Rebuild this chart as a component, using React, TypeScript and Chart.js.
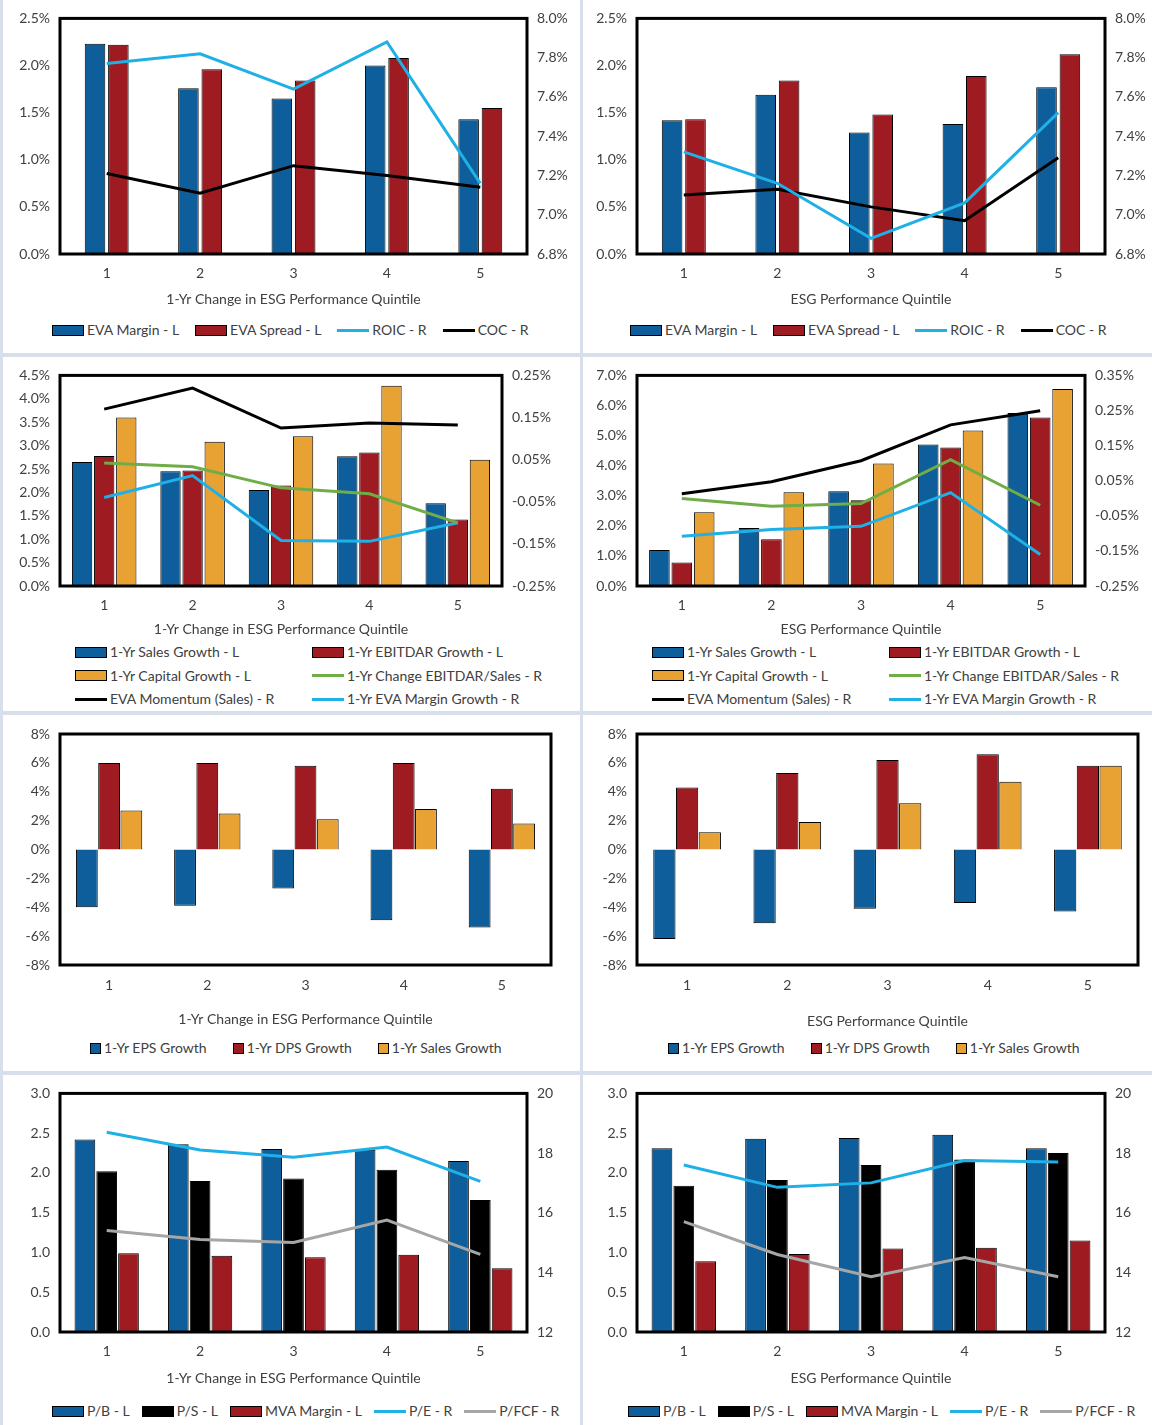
import React, { useEffect, useRef } from "react";
import { Chart, registerables } from "chart.js";
Chart.register(...registerables);

const categories = ["1", "2", "3", "4", "5"];
const BLUE = "#0F5E9C", RED = "#9E1B22", GOLD = "#E8A233", CYAN = "#1FB0E6", GREEN = "#70AD47", BLACK = "#000000", GRAY = "#A6A6A6";

// Panel 1
const p1EvaMargin = [2.23, 1.76, 1.65, 2.0, 1.43];
const p1EvaSpread = [2.22, 1.96, 1.84, 2.08, 1.55];
const p1Roic = [7.77, 7.82, 7.64, 7.88, 7.16];
const p1Coc = [7.21, 7.11, 7.25, 7.2, 7.14];
// Panel 2
const p2EvaMargin = [1.42, 1.69, 1.29, 1.38, 1.77];
const p2EvaSpread = [1.43, 1.84, 1.48, 1.89, 2.12];
const p2Roic = [7.32, 7.16, 6.88, 7.06, 7.52];
const p2Coc = [7.1, 7.13, 7.04, 6.97, 7.29];
// Panel 3
const p3Sales = [2.65, 2.45, 2.05, 2.77, 1.77];
const p3Ebitdar = [2.78, 2.47, 2.15, 2.85, 1.42];
const p3Capital = [3.6, 3.08, 3.2, 4.28, 2.7];
const p3Momentum = [0.17, 0.22, 0.125, 0.137, 0.132];
const p3ChgEbitdar = [0.042, 0.033, -0.017, -0.031, -0.1];
const p3EvaMarginGr = [-0.04, 0.012, -0.142, -0.144, -0.1];
// Panel 4
const p4Sales = [1.2, 1.93, 3.15, 4.7, 5.75];
const p4Ebitdar = [0.78, 1.55, 2.85, 4.6, 5.6];
const p4Capital = [2.45, 3.12, 4.07, 5.17, 6.55];
const p4Momentum = [0.013, 0.047, 0.107, 0.209, 0.249];
const p4ChgEbitdar = [-0.001, -0.023, -0.015, 0.11, -0.02];
const p4EvaMarginGr = [-0.108, -0.089, -0.08, 0.016, -0.16];
// Panel 5
const p5Eps = [-4.0, -3.9, -2.7, -4.9, -5.4];
const p5Dps = [6.0, 6.0, 5.8, 6.0, 4.2];
const p5Sales = [2.7, 2.5, 2.1, 2.8, 1.8];
// Panel 6
const p6Eps = [-6.2, -5.1, -4.1, -3.7, -4.3];
const p6Dps = [4.3, 5.3, 6.2, 6.6, 5.8];
const p6Sales = [1.2, 1.9, 3.2, 4.7, 5.8];
// Panel 7
const p7Pb = [2.42, 2.36, 2.3, 2.29, 2.15];
const p7Ps = [2.02, 1.9, 1.93, 2.04, 1.66];
const p7Mva = [0.99, 0.96, 0.94, 0.97, 0.8];
const p7Pe = [18.7, 18.1, 17.86, 18.2, 17.05];
const p7Pfcf = [15.4, 15.1, 15.0, 15.75, 14.6];
// Panel 8
const p8Pb = [2.31, 2.43, 2.44, 2.48, 2.31];
const p8Ps = [1.84, 1.91, 2.1, 2.17, 2.25];
const p8Mva = [0.89, 0.98, 1.05, 1.06, 1.15];
const p8Pe = [17.6, 16.85, 17.0, 17.75, 17.7];
const p8Pfcf = [15.7, 14.6, 13.85, 14.5, 13.85];

const T1 = "1-Yr Change in ESG Performance Quintile";
const T2 = "ESG Performance Quintile";
const FONT = "Lato, 'Noto Sans', sans-serif";

type S = { label: string; data: number[]; color: string };
type Axis = { min: number; max: number; step: number; dec: number; pct: boolean };
type Panel = {
  x: number; y: number; w: number; h: number; ch: number;
  pl: number; pr: number; pt: number; xh: number; tickPad: number;
  yL: Axis; yR?: Axis; bars: S[]; lines: S[]; catPct: number; barPct: number;
  title: string; legendTop: number; legendCols?: number[]; legendGap?: number; legendLeft?: number; square?: boolean;
};

const ax = (min: number, max: number, step: number, dec: number, pct: boolean): Axis => ({ min, max, step, dec, pct });

const panels: Panel[] = [
  { x: 3, y: 0, w: 577, h: 353, ch: 310, pl: 57, pr: 53, pt: 17, xh: 56, tickPad: 11,
    yL: ax(0, 2.5, 0.5, 1, true), yR: ax(6.8, 8.0, 0.2, 1, true),
    bars: [{ label: "EVA Margin - L", data: p1EvaMargin, color: BLUE }, { label: "EVA Spread - L", data: p1EvaSpread, color: RED }],
    lines: [{ label: "ROIC - R", data: p1Roic, color: CYAN }, { label: "COC - R", data: p1Coc, color: BLACK }],
    catPct: 0.5, barPct: 0.88, title: T1, legendTop: 321, legendLeft: 49, legendGap: 16 },
  { x: 583, y: 0, w: 569, h: 353, ch: 310, pl: 54, pr: 47, pt: 17, xh: 56, tickPad: 11,
    yL: ax(0, 2.5, 0.5, 1, true), yR: ax(6.8, 8.0, 0.2, 1, true),
    bars: [{ label: "EVA Margin - L", data: p2EvaMargin, color: BLUE }, { label: "EVA Spread - L", data: p2EvaSpread, color: RED }],
    lines: [{ label: "ROIC - R", data: p2Roic, color: CYAN }, { label: "COC - R", data: p2Coc, color: BLACK }],
    catPct: 0.5, barPct: 0.88, title: T2, legendTop: 321, legendLeft: 47, legendGap: 16 },
  { x: 3, y: 357, w: 577, h: 354, ch: 283, pl: 57, pr: 78, pt: 17, xh: 54, tickPad: 11,
    yL: ax(0, 4.5, 0.5, 1, true), yR: ax(-0.25, 0.25, 0.1, 2, true),
    bars: [{ label: "1-Yr Sales  Growth - L", data: p3Sales, color: BLUE }, { label: "1-Yr EBITDAR Growth - L", data: p3Ebitdar, color: RED }, { label: "1-Yr Capital Growth - L", data: p3Capital, color: GOLD }],
    lines: [{ label: "1-Yr Change EBITDAR/Sales - R", data: p3ChgEbitdar, color: GREEN }, { label: "EVA Momentum (Sales) - R", data: p3Momentum, color: BLACK }, { label: "1-Yr EVA Margin Growth - R", data: p3EvaMarginGr, color: CYAN }],
    catPct: 0.75, barPct: 0.92, title: T1, legendTop: 286, legendCols: [72, 309] },
  { x: 583, y: 357, w: 569, h: 354, ch: 283, pl: 54, pr: 67, pt: 17, xh: 54, tickPad: 11,
    yL: ax(0, 7, 1, 1, true), yR: ax(-0.25, 0.35, 0.1, 2, true),
    bars: [{ label: "1-Yr Sales  Growth - L", data: p4Sales, color: BLUE }, { label: "1-Yr EBITDAR Growth - L", data: p4Ebitdar, color: RED }, { label: "1-Yr Capital Growth - L", data: p4Capital, color: GOLD }],
    lines: [{ label: "1-Yr Change EBITDAR/Sales - R", data: p4ChgEbitdar, color: GREEN }, { label: "EVA Momentum (Sales) - R", data: p4Momentum, color: BLACK }, { label: "1-Yr EVA Margin Growth - R", data: p4EvaMarginGr, color: CYAN }],
    catPct: 0.75, barPct: 0.92, title: T2, legendTop: 286, legendCols: [69, 306] },
  { x: 3, y: 715, w: 577, h: 356, ch: 315, pl: 57, pr: 29, pt: 19, xh: 65, tickPad: 12,
    yL: ax(-8, 8, 2, 0, true),
    bars: [{ label: "1-Yr EPS Growth", data: p5Eps, color: BLUE }, { label: "1-Yr DPS Growth", data: p5Dps, color: RED }, { label: "1-Yr Sales  Growth", data: p5Sales, color: GOLD }],
    lines: [], catPct: 0.68, barPct: 0.98, title: T1, legendTop: 324, legendLeft: 87, legendGap: 26, square: true },
  { x: 583, y: 715, w: 569, h: 356, ch: 317, pl: 54, pr: 14, pt: 19, xh: 67, tickPad: 12,
    yL: ax(-8, 8, 2, 0, true),
    bars: [{ label: "1-Yr EPS Growth", data: p6Eps, color: BLUE }, { label: "1-Yr DPS Growth", data: p6Dps, color: RED }, { label: "1-Yr Sales  Growth", data: p6Sales, color: GOLD }],
    lines: [], catPct: 0.68, barPct: 0.98, title: T2, legendTop: 324, legendLeft: 85, legendGap: 26, square: true },
  { x: 3, y: 1075, w: 577, h: 350, ch: 314, pl: 57, pr: 53, pt: 18, xh: 57, tickPad: 11,
    yL: ax(0, 3, 0.5, 1, false), yR: ax(12, 20, 2, 0, false),
    bars: [{ label: "P/B - L", data: p7Pb, color: BLUE }, { label: "P/S - L", data: p7Ps, color: BLACK }, { label: "MVA Margin - L", data: p7Mva, color: RED }],
    lines: [{ label: "P/E - R", data: p7Pe, color: CYAN }, { label: "P/FCF - R", data: p7Pfcf, color: GRAY }],
    catPct: 0.7, barPct: 0.95, title: T1, legendTop: 327, legendLeft: 49, legendGap: 12 },
  { x: 583, y: 1075, w: 569, h: 350, ch: 314, pl: 54, pr: 47, pt: 18, xh: 57, tickPad: 11,
    yL: ax(0, 3, 0.5, 1, false), yR: ax(12, 20, 2, 0, false),
    bars: [{ label: "P/B - L", data: p8Pb, color: BLUE }, { label: "P/S - L", data: p8Ps, color: BLACK }, { label: "MVA Margin - L", data: p8Mva, color: RED }],
    lines: [{ label: "P/E - R", data: p8Pe, color: CYAN }, { label: "P/FCF - R", data: p8Pfcf, color: GRAY }],
    catPct: 0.7, barPct: 0.95, title: T2, legendTop: 327, legendLeft: 45, legendGap: 12 },
];

const borderPlugin = {
  id: "plotBorder",
  afterDraw(chart: any) {
    const { ctx, chartArea: a } = chart;
    ctx.save();
    ctx.strokeStyle = "#000";
    ctx.lineWidth = 3;
    ctx.strokeRect(a.left, a.top, a.right - a.left, a.bottom - a.top);
    ctx.restore();
  },
};

const fmt = (a: Axis) => (v: any) => Number(v).toFixed(a.dec) + (a.pct ? "%" : "");

function PanelChart({ p }: { p: Panel }) {
  const ref = useRef<HTMLCanvasElement>(null);
  useEffect(() => {
    const tickFont = { family: FONT, size: 14 };
    const yAxis = (a: Axis, pos: string, width: number) => ({
      type: "linear", position: pos, min: a.min, max: a.max,
      grid: { display: false, drawTicks: false }, border: { display: false },
      ticks: { stepSize: a.step, padding: 10, color: "#404040", font: tickFont, callback: fmt(a) },
      afterFit: (s: any) => { s.width = width; },
      afterBuildTicks: (s: any) => {
        const t = [];
        const n = Math.round((a.max - a.min) / a.step);
        for (let i = 0; i <= n; i++) t.push({ value: +(a.min + i * a.step).toFixed(6) });
        s.ticks = t;
      },
    });
    const scales: any = {
      x: {
        grid: { display: false, drawTicks: false }, border: { display: false },
        ticks: { padding: p.tickPad, color: "#404040", font: tickFont },
        title: { display: true, text: p.title, color: "#404040", font: tickFont, padding: { top: 0, bottom: 2 } },
        afterFit: (s: any) => { s.height = p.xh; },
      },
      y: yAxis(p.yL, "left", p.pl),
    };
    if (p.yR) scales.y1 = yAxis(p.yR, "right", p.pr);
    const datasets: any[] = [
      ...p.lines.map((l) => ({ type: "line", label: l.label, data: l.data, borderColor: l.color, backgroundColor: l.color, borderWidth: 3, pointRadius: 0, yAxisID: "y1", order: 0, tension: 0 })),
      ...p.bars.map((b) => ({ type: "bar", label: b.label, data: b.data, backgroundColor: b.color, borderColor: "#000", borderWidth: 1, yAxisID: "y", order: 1, categoryPercentage: p.catPct, barPercentage: p.barPct })),
    ];
    const chart = new Chart(ref.current!, {
      type: "bar",
      data: { labels: categories, datasets },
      options: {
        animation: false, responsive: false, maintainAspectRatio: false,
        layout: { padding: { top: p.pt, left: 0, right: p.yR ? 0 : p.pr, bottom: 0 } },
        plugins: { legend: { display: false }, tooltip: { enabled: false } },
        scales,
      } as any,
      plugins: [borderPlugin],
    });
    return () => chart.destroy();
  }, []);

  const items = [...p.bars.map((b) => ({ ...b, bar: true })), ...p.lines.map((l) => ({ ...l, bar: false }))];
  const swatch = (it: any) =>
    it.bar ? (
      <span style={{ display: "block", flex: "none", width: p.square ? 9 : 30, height: 9, background: it.color, border: "1px solid #000", marginRight: 3 }} />
    ) : (
      <span style={{ display: "block", flex: "none", width: 32, height: 3, background: it.color, marginRight: 3 }} />
    );
  const itemEl = (it: any, i: number) => (
    <div key={i} style={{ display: "flex", alignItems: "center", whiteSpace: "nowrap", height: 18 }}>
      {swatch(it)}
      <span>{it.label}</span>
    </div>
  );

  return (
    <div style={{ position: "absolute", left: p.x, top: p.y, width: p.w, height: p.h, background: "#fff", overflow: "hidden" }}>
      <canvas ref={ref} width={p.w} height={p.ch} style={{ position: "absolute", left: 0, top: 0, width: p.w, height: p.ch }} />
      {p.legendCols ? (
        <div style={{ position: "absolute", top: p.legendTop, left: 0, width: p.w, font: `14px ${FONT}`, color: "#404040", lineHeight: "18px" }}>
          {[[items[0], items[1]], [items[2], items[3]], [items[4], items[5]]].map((row, r) => (
            <div key={r} style={{ position: "relative", height: 23.5 }}>
              {row.map((it, c) => (
                <div key={c} style={{ position: "absolute", left: p.legendCols![c], top: 0 }}>{itemEl(it, c)}</div>
              ))}
            </div>
          ))}
        </div>
      ) : (
        <div style={{ position: "absolute", top: p.legendTop, left: p.legendLeft, display: "flex", gap: p.legendGap, font: `14px ${FONT}`, color: "#404040", lineHeight: "18px" }}>
          {items.map(itemEl)}
        </div>
      )}
    </div>
  );
}

export default function App() {
  return (
    <div style={{ position: "absolute", left: 0, top: 0, width: 1152, height: 1425, background: "#D6DFEA" }}>
      {panels.map((p, i) => <PanelChart key={i} p={p} />)}
    </div>
  );
}
